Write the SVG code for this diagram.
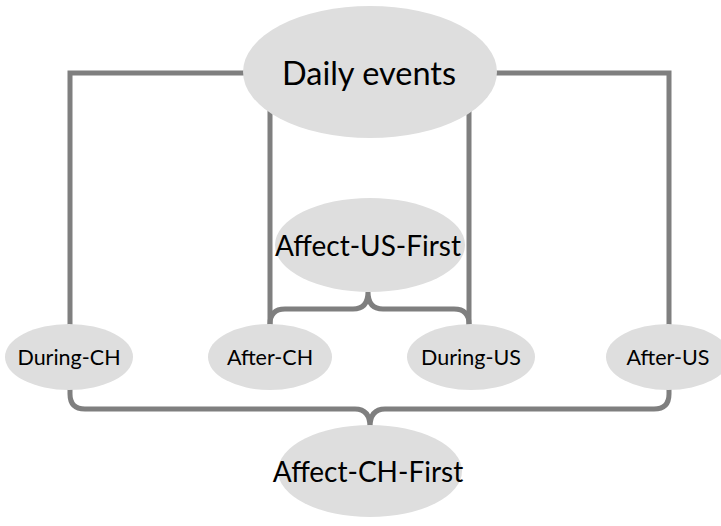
<svg xmlns="http://www.w3.org/2000/svg" width="721" height="526" viewBox="0 0 721 526">
<style>
.c{fill:none;stroke:#7f7f7f;stroke-width:5}
.n{fill:#dedede}
.t{font-family:Lato,"Open Sans","Liberation Sans",sans-serif;fill:#000;text-anchor:middle;dominant-baseline:central}
</style>
<rect width="721" height="526" fill="#fff"/>
<g id="connectors">
<path class="c" d="M250,73 L70,73 L70,330"/>
<path class="c" d="M490,73 L669,73 L669,330"/>
<path class="c" d="M270,100 L270,330"/>
<path class="c" d="M469,100 L469,330"/>
<path class="c" d="M270,327 L270,324 Q270,309 285,309 L353,309 Q368,309 368,292 Q368,309 383,309 L454,309 Q469,309 469,324 L469,327"/>
<path class="c" d="M70,385 L70,394 Q70,409 85,409 L355,409 Q370,409 370,427 Q370,409 385,409 L654,409 Q669,409 669,394 L669,385"/>
</g>
<g id="daily"><ellipse class="n" cx="370" cy="72" rx="127" ry="66"/><text class="t" x="369" y="72" font-size="32.5">Daily events</text></g>
<g id="affect-us"><ellipse class="n" cx="370" cy="245" rx="95" ry="47"/><text class="t" x="368" y="245" font-size="28">Affect-US-First</text></g>
<g id="during-ch"><ellipse class="n" cx="69" cy="357" rx="64" ry="33"/><text class="t" x="69" y="357" font-size="21.5">During-CH</text></g>
<g id="after-ch"><ellipse class="n" cx="270" cy="357" rx="62" ry="33"/><text class="t" x="270" y="357" font-size="21.5">After-CH</text></g>
<g id="during-us"><ellipse class="n" cx="471" cy="357" rx="64" ry="33"/><text class="t" x="471" y="357" font-size="21.5">During-US</text></g>
<g id="after-us"><ellipse class="n" cx="668" cy="357" rx="62" ry="33"/><text class="t" x="668" y="357" font-size="21.5">After-US</text></g>
<g id="affect-ch"><ellipse class="n" cx="370" cy="471" rx="92" ry="46"/><text class="t" x="368" y="471" font-size="28">Affect-CH-First</text></g>
</svg>
